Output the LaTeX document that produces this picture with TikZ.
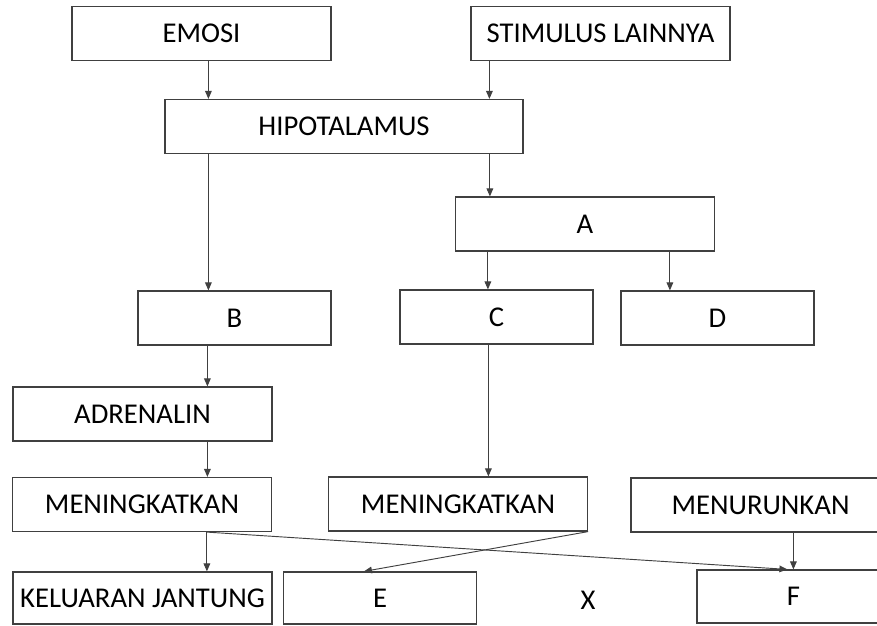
\documentclass[tikz,border=0pt]{standalone}
\usepackage{fontspec}
\setmainfont{Carlito}
\usepackage{xcolor}
\usepackage{tikz}
\usetikzlibrary{arrows.meta, positioning, calc}
\definecolor{linegray}{RGB}{64,64,64}
\begin{document}
\begin{tikzpicture}[
  x=0.75pt, y=-0.75pt,
  every node/.style={font=\fontsize{21.5}{25}\selectfont},
  box/.style={rectangle, draw=linegray, line width=0.9pt, minimum height=54*0.75pt, inner sep=2pt, align=center},
  wide/.style={box, minimum width=259*0.75pt},
  hwide/.style={box, minimum width=358*0.75pt},
  narrow/.style={box, minimum width=193*0.75pt},
  arr/.style={-{Triangle[length=6pt, width=5pt]}, line width=0.7pt, draw=linegray}
]
\useasboundingbox (0,0) rectangle (877,625);

% Row 1: inputs
\node[wide]  (emosi) at (201.5, 33.5) {EMOSI};
\node[wide]  (stim)  at (600.5, 33.5) {STIMULUS LAINNYA};
% Row 2
\node[hwide] (hipo)  at (344, 126.5)  {HIPOTALAMUS};
% Row 3
\node[wide]  (a)     at (585, 224)    {A};
% Row 4 (B, C, D)
\node[narrow] (b)    at (234.5, 318)  {B};
\node[narrow] (c)    at (496.5, 317)  {C};
\node[narrow] (d)    at (717.5, 318)  {D};
% Row 5
\node[wide]  (adren) at (142.5, 414)  {ADRENALIN};
% Row 6: effects
\node[wide]  (naik1) at (142, 504.5)  {MENINGKATKAN};
\node[wide]  (naik2) at (458, 504)    {MENINGKATKAN};
\node[wide]  (turun) at (760.5, 505)  {MENURUNKAN};
% Row 7: outputs (cut by the lower edge)
\node[wide, minimum height=52*0.75pt]   (kj) at (142.5, 598) {KELUARAN JANTUNG};
\node[narrow, minimum height=52*0.75pt] (e)  at (380, 598)   {E};
\node[narrow, minimum height=53*0.75pt] (f)  at (793.5, 596.5) {F};
\node (x) at (588, 600) {X};

% arrow start points on the box edges
\coordinate (p1) at ($(emosi.south west)+(137,0)$);
\coordinate (p2) at ($(stim.south west)+(19,0)$);
\coordinate (p3) at ($(hipo.south west)+(44,0)$);
\coordinate (p4) at ($(a.north west)+(35,0)$);
\coordinate (p5) at ($(a.south west)+(33,0)$);
\coordinate (p6) at ($(a.south west)+(215,0)$);
\coordinate (p7) at ($(b.south west)+(70,0)$);
\coordinate (p8) at ($(adren.south west)+(195,0)$);
\coordinate (p9) at ($(naik1.south west)+(195,0)$);
\coordinate (p10) at ($(c.south west)+(89,0)$);
\coordinate (p11) at ($(turun.south west)+(163,0)$);
\coordinate (fin) at ($(f.north west)+(91,0)$);
\coordinate (ein) at ($(e.north west)+(81,0)$);

% inputs -> hipotalamus
\draw[arr] (p1) -- (p1 |- hipo.north);
\draw[arr] (p2) -- (p2 |- hipo.north);

% hipotalamus -> B and A
\draw[arr] (p3) -- (p3 |- b.north);
\draw[arr] (p4 |- hipo.south) -- (p4);

% A -> C, D
\draw[arr] (p5) -- (p5 |- c.north);
\draw[arr] (p6) -- (p6 |- d.north);

% left column
\draw[arr] (p7) -- (p7 |- adren.north);
\draw[arr] (p8) -- (p8 |- naik1.north);
\draw[arr] (p9) -- (p9 |- kj.north);

% C -> meningkatkan
\draw[arr] (p10) -- (p10 |- naik2.north);

% crossing arrows
\draw[arr] (p9) -- (fin);
\draw[arr] (naik2.south east) -- (ein);

% menurunkan -> F
\draw[arr] (p11) -- (p11 |- f.north);
\end{tikzpicture}
\end{document}
